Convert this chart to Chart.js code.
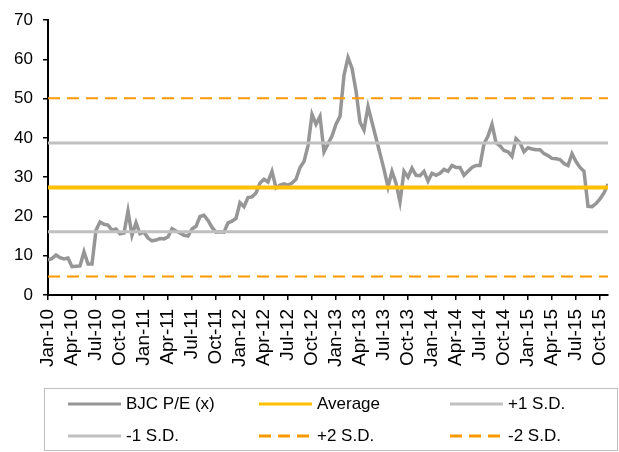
<!DOCTYPE html>
<html lang="en">
<head>
    <meta charset="UTF-8">
    <title>BJC P/E band</title>
    <script src="https://cdn.jsdelivr.net/npm/chart.js"></script>
    <style>
        html, body { margin: 0; padding: 0; background: #fff; }
        #wrap { width: 619px; height: 452px; }
    </style>
</head>
<body>
    <div id="wrap">
        <canvas id="pe-chart" width="619" height="452"></canvas>
    </div>

    <script>
        // quarter labels on the x axis (one every 3 months from Jan-10)
        var tickLabels = ['Jan-10', 'Apr-10', 'Jul-10', 'Oct-10', 'Jan-11', 'Apr-11', 'Jul-11', 'Oct-11',
                          'Jan-12', 'Apr-12', 'Jul-12', 'Oct-12', 'Jan-13', 'Apr-13', 'Jul-13', 'Oct-13',
                          'Jan-14', 'Apr-14', 'Jul-14', 'Oct-14', 'Jan-15', 'Apr-15', 'Jul-15', 'Oct-15'];

        // BJC P/E, read twice a month from Jan-10 to early Nov-15
        var peValues = [
            8.9, 9.3, 10.2, 9.5, 9.2, 9.4, 7.2, 7.3, 7.4, 11.0, 7.9, 7.9,          // 2010 H1
            16.5, 18.6, 18.0, 17.8, 16.5, 16.8, 15.6, 15.8, 21.4, 15.2, 18.4, 15.6, // 2010 H2
            16.0, 14.5, 13.8, 14.0, 14.4, 14.3, 14.8, 16.9, 16.3, 15.8, 15.2, 15.0, // 2011 H1
            16.8, 17.5, 20.0, 20.3, 19.0, 17.2, 16.0, 16.1, 16.0, 18.4, 18.8, 19.5, // 2011 H2
            23.5, 22.5, 24.8, 25.0, 26.0, 28.5, 29.5, 28.8, 31.5, 27.3, 28.0, 28.3, // 2012 H1
            28.0, 28.5, 29.5, 32.5, 34.0, 38.0, 46.0, 43.5, 45.5, 36.5, 38.5, 40.5, // 2012 H2
            43.5, 45.5, 56.0, 60.5, 57.8, 52.0, 44.0, 42.0, 48.0, 44.0, 40.0, 36.0, // 2013 H1
            32.0, 27.5, 31.5, 28.5, 23.7, 31.5, 30.0, 32.3, 30.5, 30.4, 31.5, 29.0, // 2013 H2
            31.0, 30.5, 31.0, 32.0, 31.5, 33.0, 32.5, 32.5, 30.5, 31.5, 32.5, 33.0, // 2014 H1
            33.0, 38.5, 40.5, 43.5, 38.8, 38.0, 36.8, 36.5, 35.3, 39.8, 38.8, 36.5, // 2014 H2
            37.5, 37.2, 37.0, 37.0, 36.0, 35.5, 34.8, 34.7, 34.5, 33.5, 33.0, 36.0, // 2015 H1
            34.0, 32.5, 31.5, 22.6, 22.5, 23.3, 24.5, 26.0, 28.3                    // 2015 H2
        ];
        var monthsPerPoint = 0.5;

        // band levels
        var average = 27.4;
        var plusOneSD = 38.7;
        var minusOneSD = 16.1;
        var plusTwoSD = 50.1;
        var minusTwoSD = 4.7;

        var xMax = 70;  // months shown, Jan-10 .. start of Nov-15

        var peSeries = peValues.map(function(v, i) { return { x: i * monthsPerPoint, y: v }; });
        function flat(level) { return [{ x: 0, y: level }, { x: xMax, y: level }]; }

        var fontFamily = "'Liberation Sans', Arial, sans-serif";

        // legend drawn as a boxed 3-column grid, like the Excel original
        var boxedLegend = {
            id: 'boxedLegend',
            afterDraw: function(chart) {
                var ctx = chart.ctx;
                var ds = chart.data.datasets;
                ctx.save();
                ctx.strokeStyle = '#bfbfbf';
                ctx.lineWidth = 1;
                ctx.strokeRect(44.5, 388.5, 573, 62);

                var cols = [68, 259, 450];
                var rows = [404, 436];
                ctx.font = '17px ' + fontFamily;
                ctx.fillStyle = '#000';
                ctx.textBaseline = 'middle';
                ds.forEach(function(d, i) {
                    var x = cols[i % 3], y = rows[Math.floor(i / 3)];
                    ctx.beginPath();
                    ctx.strokeStyle = d.borderColor;
                    ctx.lineWidth = 3;
                    ctx.setLineDash(d.borderDash || []);
                    ctx.moveTo(x, y);
                    ctx.lineTo(x + 53, y);
                    ctx.stroke();
                    ctx.setLineDash([]);
                    ctx.fillText(d.label, x + 58, y);
                });
                ctx.restore();
            }
        };

        var ctx = document.getElementById('pe-chart').getContext('2d');
        var peChart = new Chart(ctx, {
            type: 'line',
            data: {
                datasets: [
                    { label: 'BJC P/E (x)', data: peSeries, borderColor: '#969696', borderWidth: 3.5, order: 10 },
                    { label: 'Average', data: flat(average), borderColor: '#ffc000', borderWidth: 4 },
                    { label: '+1 S.D.', data: flat(plusOneSD), borderColor: '#c0c0c0', borderWidth: 3 },
                    { label: '-1 S.D.', data: flat(minusOneSD), borderColor: '#c0c0c0', borderWidth: 3 },
                    { label: '+2 S.D.', data: flat(plusTwoSD), borderColor: '#ff9900', borderWidth: 2, borderDash: [12, 7] },
                    { label: '-2 S.D.', data: flat(minusTwoSD), borderColor: '#ff9900', borderWidth: 2, borderDash: [12, 7] }
                ]
            },
            options: {
                responsive: false,
                animation: false,
                devicePixelRatio: 1,
                elements: {
                    point: { radius: 0 },
                    line: { tension: 0, fill: false }
                },
                layout: { padding: { top: 19, right: 11, bottom: 70, left: 0 } },
                plugins: {
                    legend: { display: false },
                    tooltip: { enabled: false }
                },
                scales: {
                    x: {
                        type: 'linear',
                        min: 0,
                        max: xMax,
                        afterFit: function(scale) {
                            scale.height = 87;
                            scale.paddingRight = 0;
                        },
                        border: { color: '#000', width: 2 },
                        grid: { drawOnChartArea: false, drawTicks: true, tickLength: 5, color: '#000', lineWidth: 1.5 },
                        ticks: {
                            stepSize: 3,
                            includeBounds: false,
                            autoSkip: false,
                            maxRotation: 90,
                            minRotation: 90,
                            padding: 9,
                            color: '#000',
                            font: { family: fontFamily, size: 19 },
                            callback: function(v) { return tickLabels[Math.round(v / 3)] || ''; }
                        }
                    },
                    y: {
                        min: 0,
                        max: 70,
                        afterFit: function(scale) { scale.width = 48; },
                        border: { color: '#000', width: 2 },
                        grid: { drawOnChartArea: false, drawTicks: true, tickLength: 5, color: '#000', lineWidth: 1.5 },
                        ticks: {
                            stepSize: 10,
                            padding: 10,
                            color: '#000',
                            font: { family: fontFamily, size: 17 }
                        }
                    }
                }
            },
            plugins: [boxedLegend]
        });
    </script>
</body>
</html>
